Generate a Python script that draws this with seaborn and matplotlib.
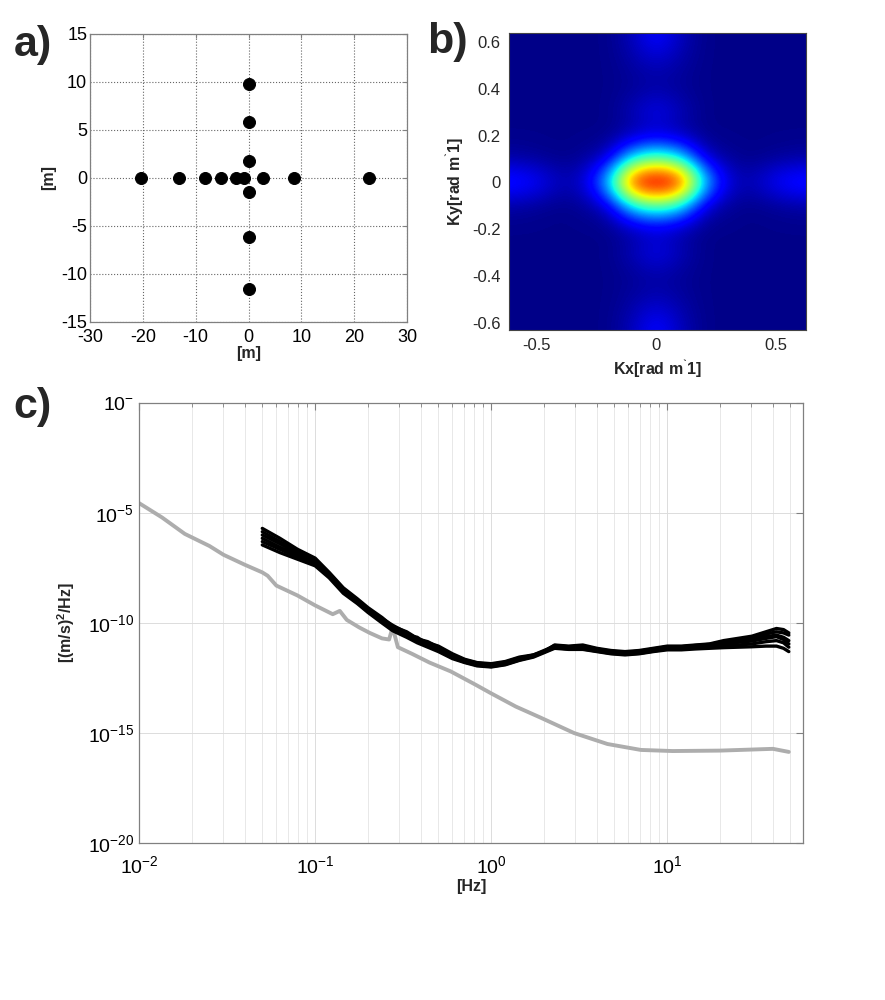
import numpy as np
import pandas as pd
import matplotlib
matplotlib.use('Agg')
import matplotlib.pyplot as plt
from matplotlib.ticker import FormatStrFormatter, LogLocator, NullFormatter
import seaborn as sns

# ---- panel a: sensor layout [m]
sensor_x = [-20.3, -13.2, -8.3, -5.3, -2.3, -0.8, 2.8, 8.6, 22.9, 0, 0, 0, 0, 0, 0]
sensor_y = [0, 0, 0, 0, 0, 0, 0, 0, 0, 9.8, 5.8, 1.8, -1.5, -6.1, -11.6]

# ---- panel b: wavenumber spectrum read on a 0.1 rad/m grid (rows ky=0.6 .. -0.6, cols kx=-0.6 .. 0.6)
k_grid = [-0.6, -0.5, -0.4, -0.3, -0.2, -0.1, 0.0, 0.1, 0.2, 0.3, 0.4, 0.5, 0.6]
spec_rows = [
    [0.01, 0.01, 0.01, 0.01, 0.01, 0.05, 0.12, 0.05, 0.01, 0.01, 0.01, 0.01, 0.01],
    [0.01, 0.01, 0.01, 0.01, 0.01, 0.03, 0.05, 0.03, 0.01, 0.01, 0.01, 0.01, 0.01],
    [0.01, 0.01, 0.01, 0.01, 0.01, 0.02, 0.03, 0.02, 0.01, 0.01, 0.01, 0.01, 0.01],
    [0.01, 0.01, 0.01, 0.01, 0.01, 0.05, 0.10, 0.05, 0.01, 0.01, 0.01, 0.01, 0.01],
    [0.01, 0.01, 0.01, 0.01, 0.01, 0.03, 0.05, 0.03, 0.01, 0.01, 0.01, 0.01, 0.01],
    [0.03, 0.02, 0.01, 0.02, 0.06, 0.34, 0.45, 0.34, 0.06, 0.02, 0.01, 0.02, 0.03],
    [0.15, 0.12, 0.05, 0.07, 0.34, 0.93, 1.00, 0.93, 0.34, 0.07, 0.05, 0.12, 0.15],
    [0.03, 0.02, 0.01, 0.02, 0.06, 0.34, 0.45, 0.34, 0.06, 0.02, 0.01, 0.02, 0.03],
    [0.01, 0.01, 0.01, 0.01, 0.01, 0.03, 0.05, 0.03, 0.01, 0.01, 0.01, 0.01, 0.01],
    [0.01, 0.01, 0.01, 0.01, 0.01, 0.05, 0.10, 0.05, 0.01, 0.01, 0.01, 0.01, 0.01],
    [0.01, 0.01, 0.01, 0.01, 0.01, 0.02, 0.03, 0.02, 0.01, 0.01, 0.01, 0.01, 0.01],
    [0.01, 0.01, 0.01, 0.01, 0.01, 0.03, 0.05, 0.03, 0.01, 0.01, 0.01, 0.01, 0.01],
    [0.01, 0.01, 0.01, 0.01, 0.01, 0.05, 0.12, 0.05, 0.01, 0.01, 0.01, 0.01, 0.01],
]

# ---- panel c: PSD, log10 values
noise_logf = [-2.0, -1.87, -1.74, -1.60, -1.52, -1.40, -1.30, -1.27, -1.22, -1.10, -1.00,
              -0.90, -0.86, -0.82, -0.75, -0.69, -0.62, -0.58, -0.56, -0.53, -0.45, -0.35,
              -0.23, -0.09, 0.0, 0.14, 0.28, 0.47, 0.66, 0.85, 1.03, 1.30, 1.60, 1.69]
noise_logpsd = [-4.55, -5.2, -5.95, -6.5, -6.9, -7.35, -7.7, -7.85, -8.3, -8.75, -9.2,
                -9.6, -9.45, -9.86, -10.2, -10.45, -10.7, -10.75, -10.2, -11.1, -11.4, -11.8,
                -12.2, -12.8, -13.2, -13.8, -14.3, -15.0, -15.5, -15.77, -15.82, -15.8, -15.72, -15.86]

sensor_logf = [-1.30, -1.20, -1.10, -1.00, -0.92, -0.84, -0.76, -0.70, -0.62, -0.56, -0.48,
               -0.42, -0.36, -0.30, -0.22, -0.15, -0.08, 0.00, 0.08, 0.16, 0.24, 0.30,
               0.36, 0.44, 0.52, 0.60, 0.68, 0.76, 0.84, 0.92, 1.00, 1.08, 1.16, 1.24,
               1.32, 1.40, 1.48, 1.56, 1.62, 1.66, 1.69]
sensor_logpsd = [
    [-5.70, -6.15, -6.65, -7.05, -7.70, -8.40, -8.90, -9.30, -9.75, -10.15, -10.40, -10.70, -10.90, -11.05,
     -11.40, -11.65, -11.80, -11.85, -11.75, -11.55, -11.45, -11.30, -11.00, -11.05, -11.00, -11.15, -11.25,
     -11.30, -11.25, -11.15, -11.05, -11.05, -11.00, -10.95, -10.80, -10.70, -10.60, -10.40, -10.25, -10.30, -10.45],
    [-5.85, -6.30, -6.75, -7.12, -7.75, -8.45, -8.95, -9.35, -9.80, -10.10, -10.45, -10.72, -10.85, -11.10,
     -11.45, -11.68, -11.82, -11.88, -11.78, -11.58, -11.48, -11.28, -11.02, -11.08, -11.05, -11.18, -11.28,
     -11.33, -11.28, -11.18, -11.08, -11.08, -11.02, -10.97, -10.85, -10.75, -10.68, -10.50, -10.40, -10.45, -10.55],
    [-6.00, -6.40, -6.82, -7.18, -7.80, -8.50, -9.00, -9.42, -9.88, -10.25, -10.55, -10.65, -10.98, -11.18,
     -11.50, -11.72, -11.88, -11.92, -11.82, -11.62, -11.45, -11.25, -11.05, -11.12, -11.10, -11.22, -11.32,
     -11.37, -11.32, -11.22, -11.12, -11.12, -11.06, -11.02, -10.92, -10.82, -10.75, -10.62, -10.55, -10.65, -10.80],
    [-6.15, -6.55, -6.92, -7.25, -7.85, -8.55, -9.05, -9.45, -9.90, -10.30, -10.55, -10.80, -11.00, -11.20,
     -11.55, -11.75, -11.90, -11.95, -11.85, -11.65, -11.50, -11.30, -11.10, -11.15, -11.15, -11.25, -11.35,
     -11.40, -11.35, -11.25, -11.15, -11.15, -11.10, -11.05, -10.98, -10.88, -10.82, -10.70, -10.62, -10.75, -10.95],
    [-6.30, -6.65, -7.00, -7.32, -7.90, -8.60, -9.08, -9.48, -9.95, -10.25, -10.60, -10.85, -11.05, -11.25,
     -11.58, -11.78, -11.92, -11.98, -11.88, -11.68, -11.52, -11.32, -11.12, -11.18, -11.18, -11.28, -11.38,
     -11.42, -11.38, -11.28, -11.18, -11.18, -11.14, -11.10, -11.05, -11.00, -10.95, -10.85, -10.80, -10.90, -11.10],
    [-6.45, -6.80, -7.10, -7.40, -7.95, -8.65, -9.12, -9.52, -10.00, -10.35, -10.65, -10.90, -11.10, -11.30,
     -11.62, -11.80, -11.95, -12.00, -11.90, -11.70, -11.55, -11.35, -11.15, -11.20, -11.20, -11.30, -11.40,
     -11.45, -11.40, -11.30, -11.22, -11.22, -11.18, -11.15, -11.12, -11.10, -11.08, -11.05, -11.05, -11.15, -11.30],
]

sns.set_style('white')
plt.rcParams['font.family'] = ['Liberation Sans', 'DejaVu Sans']
plt.rcParams['mathtext.fontset'] = 'custom'
plt.rcParams['mathtext.rm'] = 'Liberation Sans'
plt.rcParams['mathtext.it'] = 'Liberation Sans:italic'
plt.rcParams['mathtext.bf'] = 'Liberation Sans:bold'
plt.rcParams['mathtext.default'] = 'regular'
plt.rcParams['axes.unicode_minus'] = False

fig = plt.figure(figsize=(8.85, 10), dpi=100)
ax_a = fig.add_axes([0.1017, 0.678, 0.3582, 0.288])
ax_b = fig.add_axes([0.5751, 0.670, 0.3356, 0.297])
ax_c = fig.add_axes([0.1571, 0.157, 0.7503, 0.440])

tick_fs = 12
lab_fs = 11.5

# ---- a
sns.scatterplot(x=sensor_x, y=sensor_y, ax=ax_a, color='black', s=75, edgecolor='black', zorder=3)
ax_a.set_xlim(-30, 30)
ax_a.set_ylim(-15, 15)
ax_a.set_xticks(np.arange(-30, 31, 10))
ax_a.set_yticks(np.arange(-15, 16, 5))
ax_a.grid(True, linestyle=':', color='#666666', linewidth=0.8)
ax_a.set_xlabel('[m]', fontsize=lab_fs, fontweight='bold', labelpad=0)
ax_a.set_ylabel('[m]', fontsize=lab_fs, fontweight='bold', labelpad=4)
ax_a.tick_params(direction='in', labelsize=tick_fs + 1, length=3, top=True, right=True, pad=2)
ax_a.tick_params(axis='x', pad=5)

# ---- b
ax_b.imshow(np.array(spec_rows), cmap='jet', vmin=0, vmax=0.95, interpolation='bicubic',
            interpolation_stage='data',
            extent=[k_grid[0] - 0.05, k_grid[-1] + 0.05, k_grid[0] - 0.05, k_grid[-1] + 0.05],
            origin='upper', aspect='auto')
ax_b.set_xlim(-0.615, 0.625)
ax_b.set_ylim(-0.63, 0.638)
ax_b.set_xticks([-0.5, 0, 0.5])
ax_b.set_yticks([-0.6, -0.4, -0.2, 0, 0.2, 0.4, 0.6])
ax_b.xaxis.set_major_formatter(FormatStrFormatter('%g'))
ax_b.yaxis.set_major_formatter(FormatStrFormatter('%g'))
ax_b.set_xlabel('Kx[rad m$^{\u02cb}$1]', fontsize=lab_fs, fontweight='bold', labelpad=3)
ax_b.set_ylabel('Ky[rad m$^{\u02cb}$1]', fontsize=lab_fs, fontweight='bold', labelpad=4)
ax_b.tick_params(direction='in', labelsize=tick_fs, length=0, pad=6)

# ---- c
rows = []
for i, line in enumerate(sensor_logpsd):
    for lf, lp in zip(sensor_logf, line):
        rows.append({'f': 10 ** lf, 'psd': 10 ** lp, 'sensor': i})
df = pd.DataFrame(rows)
noise = pd.DataFrame({'f': [10 ** v for v in noise_logf], 'psd': [10 ** v for v in noise_logpsd]})

sns.lineplot(data=noise, x='f', y='psd', ax=ax_c, color='#adadad', linewidth=2.8, estimator=None, sort=False)
sns.lineplot(data=df, x='f', y='psd', units='sensor', ax=ax_c, color='black', linewidth=2.4,
             estimator=None, sort=False)
ax_c.set_xscale('log')
ax_c.set_yscale('log')
ax_c.set_xlim(0.01, 59)
ax_c.set_ylim(1e-20, 1)
ax_c.set_yticks([1e-20, 1e-15, 1e-10, 1e-5, 1])
ax_c.set_yticklabels(['10$^{-20}$', '10$^{-15}$', '10$^{-10}$', '10$^{-5}$', '10$^{-}$'])
ax_c.yaxis.set_minor_locator(plt.NullLocator())
ax_c.xaxis.set_minor_locator(LogLocator(base=10, subs=np.arange(2, 10)))
ax_c.xaxis.set_minor_formatter(NullFormatter())
ax_c.grid(True, which='major', color='#dcdcdc', linewidth=0.7)
ax_c.grid(True, which='minor', axis='x', color='#e4e4e4', linewidth=0.6)
ax_c.set_xlabel('[Hz]', fontsize=lab_fs, fontweight='bold', labelpad=1)
ax_c.set_ylabel('[(m/s)$^2$/Hz]', fontsize=lab_fs, fontweight='bold', labelpad=8)
ax_c.tick_params(which='both', direction='in', top=True, right=True, labelsize=tick_fs + 2)
ax_c.tick_params(axis='x', which='major', pad=9)
ax_c.tick_params(which='major', length=5)
ax_c.tick_params(which='minor', length=3)

for ax in (ax_a, ax_c):
    for sp in ax.spines.values():
        sp.set_color('#808080')
        sp.set_linewidth(0.9)
    ax.tick_params(colors='#808080', labelcolor='black', which='both')
for sp in ax_b.spines.values():
    sp.set_color('#444444')

fig.text(0.015, 0.955, 'a)', fontsize=31, fontweight='bold', va='center')
fig.text(0.483, 0.958, 'b)', fontsize=31, fontweight='bold', va='center')
fig.text(0.015, 0.593, 'c)', fontsize=31, fontweight='bold', va='center')

fig.savefig('out.png', dpi=100)
